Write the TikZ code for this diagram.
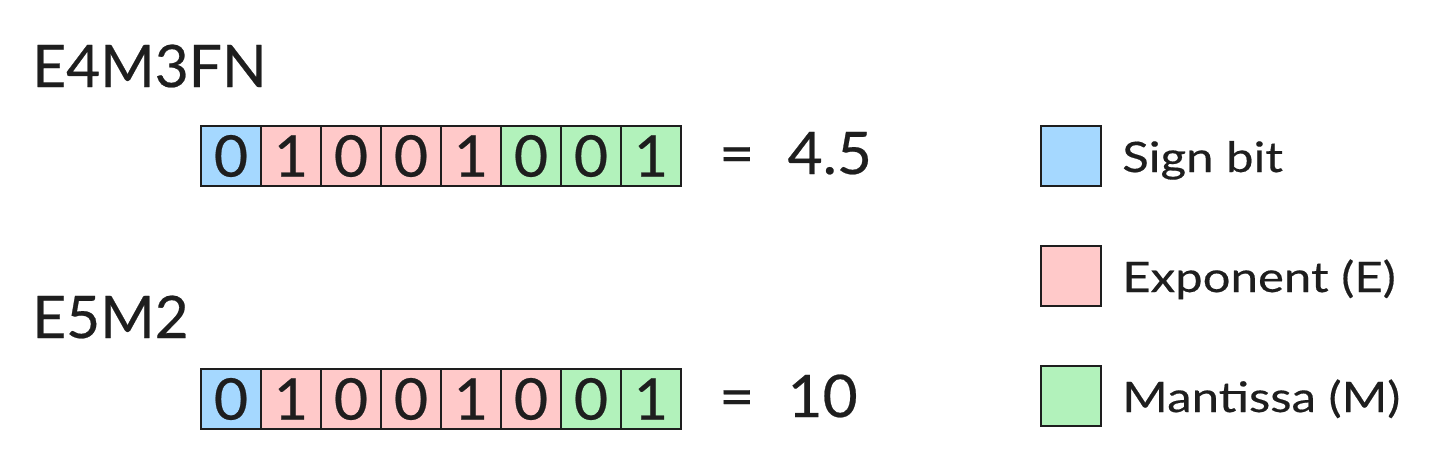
\documentclass[tikz,border=0pt]{standalone}
\usepackage{fontspec}
\setmainfont{Lato}[FakeBold=0.4]
\newfontfamily\legfont{Lato}[FakeStretch=1.17, FakeBold=0.4]
\newfontfamily\resfont{Lato}[FakeStretch=1.03, FakeBold=0.4]
\definecolor{ink}{HTML}{1E1E1E}
\definecolor{sgnc}{HTML}{A5D8FF}
\definecolor{expc}{HTML}{FFC9C9}
\definecolor{manc}{HTML}{B2F2BB}
\tikzset{
  cellbox/.style={draw=ink, line width=1.5pt, minimum width=45pt, minimum height=45pt, inner sep=0pt, outer sep=0pt, text=ink, font=\resfont\fontsize{43}{50}\selectfont},
  sgncell/.style={cellbox, fill=sgnc},
  expcell/.style={cellbox, fill=expc},
  mancell/.style={cellbox, fill=manc},
  bigtext/.style={inner sep=0pt, anchor=base west, text=ink, font=\fontsize{44}{50}\selectfont},
  restext/.style={inner sep=0pt, anchor=base west, text=ink, font=\resfont\fontsize{44}{50}\selectfont},
  legtext/.style={inner sep=0pt, anchor=base west, text=ink, font=\legfont\fontsize{31.5}{36}\selectfont},
}
\begin{document}
\begin{tikzpicture}[x=0.75pt, y=-0.75pt]
\useasboundingbox (0,0) rectangle (1431,468);
% titles
\node[bigtext] (t1) at (32,87) {E4M3FN};
\node[bigtext] (t2) at (32,338) {E5M2};
% top row: E4M3FN
\node[sgncell] (a0) at (231,156) {0};
\node[expcell] (a1) at (291,156) {1};
\node[expcell] (a2) at (351,156) {0};
\node[expcell] (a3) at (411,156) {0};
\node[expcell] (a4) at (471,156) {1};
\node[mancell] (a5) at (531,156) {0};
\node[mancell] (a6) at (591,156) {0};
\node[mancell] (a7) at (651,156) {1};
% bottom row: E5M2
\node[sgncell] (b0) at (231,399) {0};
\node[expcell] (b1) at (291,399) {1};
\node[expcell] (b2) at (351,399) {0};
\node[expcell] (b3) at (411,399) {0};
\node[expcell] (b4) at (471,399) {1};
\node[expcell] (b5) at (531,399) {0};
\node[mancell] (b6) at (591,399) {0};
\node[mancell] (b7) at (651,399) {1};
% results
\node[restext] (r1) at (719,174) {=\hspace{25pt}4.5};
\node[restext] (r2) at (719,417) {=\hspace{25pt}10};
% legend
\node[sgncell] (ls) at (1071,156) {};
\node[expcell] (le) at (1071,276) {};
\node[mancell] (lm) at (1071,396) {};
\node[legtext] (lst) at (1122,172) {Sign bit};
\node[legtext] (let) at (1122,292) {Exponent (E)};
\node[legtext] (lmt) at (1122,412) {Mantissa (M)};
\end{tikzpicture}
\end{document}
